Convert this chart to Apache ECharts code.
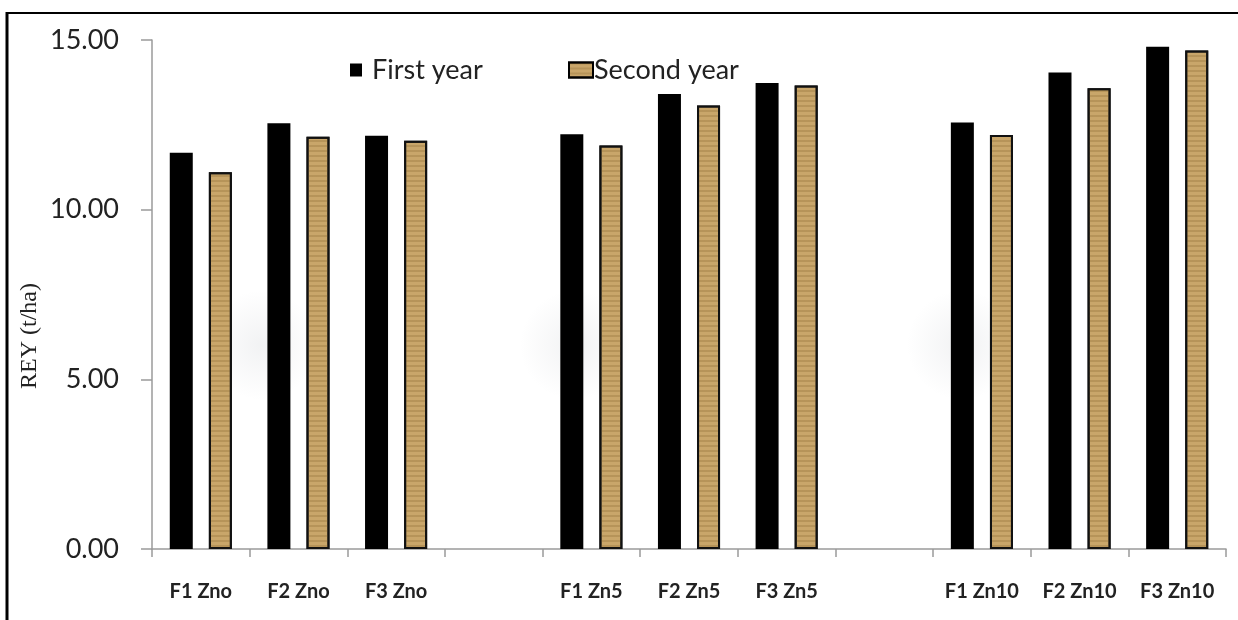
<!DOCTYPE html>
<html>
<head>
<meta charset="utf-8">
<script src="https://cdn.jsdelivr.net/npm/echarts@6/dist/echarts.min.js"></script>
<style>
  html, body { margin: 0; padding: 0; background: #fff; }
  #chart { width: 1238px; height: 620px; }
</style>
</head>
<body>
<div id="chart"></div>
<script>
// Treatment combinations (blank slots separate the zinc levels)
const categories = ['F1 Zno', 'F2 Zno', 'F3 Zno', '', 'F1 Zn5', 'F2 Zn5', 'F3 Zn5', '', 'F1 Zn10', 'F2 Zn10', 'F3 Zn10'];
// Rice equivalent yield, t/ha
const firstYear  = [11.68, 12.55, 12.18, null, 12.22, 13.41, 13.73, null, 12.57, 14.04, 14.80];
const secondYear = [11.10, 12.15, 12.03, null, 11.89, 13.07, 13.66, null, 12.20, 13.58, 14.69];
const yTicks = [0, 5, 10, 15];
const yTitle = 'REY (t/ha)';

const chart = echarts.init(document.getElementById('chart'), null, { renderer: 'canvas' });

const tan = '#c9a66a';

// soft grey haze behind each group
function haze(cx, cy) {
  return {
    type: 'ellipse', z: -10, silent: true,
    shape: { cx: cx, cy: cy, rx: 70, ry: 55 },
    style: {
      fill: new echarts.graphic.RadialGradient(0.5, 0.5, 0.5, [
        { offset: 0, color: 'rgba(150,155,165,0.13)' },
        { offset: 1, color: 'rgba(150,155,165,0)' }
      ])
    }
  };
}

chart.setOption({
  backgroundColor: '#ffffff',
  animation: false,
  graphic: [
    haze(262, 345), haze(575, 345), haze(962, 345),
    // outer frame
    { type: 'line', shape: { x1: 6, y1: 13, x2: 1238, y2: 13 }, style: { stroke: '#000', lineWidth: 2 } },
    { type: 'line', shape: { x1: 7, y1: 12, x2: 7, y2: 620 }, style: { stroke: '#000', lineWidth: 3 } },
    // vertical axis title
    {
      type: 'text', x: 30, y: 336, rotation: Math.PI / 2,
      style: {
        text: yTitle, fontFamily: 'Liberation Serif', fontSize: 24, fill: '#222',
        align: 'center', verticalAlign: 'middle',
        textAlign: 'center', textVerticalAlign: 'middle'
      }
    }
  ],
  legend: [
    {
      top: 51, left: 345,
      icon: 'rect',
      itemWidth: 12, itemHeight: 13,
      textStyle: { fontFamily: 'Lato', fontSize: 27, lineHeight: 28, color: '#222', padding: [0, 0, 0, 5] },
      data: [{ name: 'First year', itemStyle: { color: '#000', borderWidth: 0 } }]
    },
    {
      top: 51, left: 563,
      icon: 'rect',
      itemWidth: 24, itemHeight: 15,
      textStyle: { fontFamily: 'Lato', fontSize: 27, lineHeight: 28, color: '#222', padding: [0, 0, 0, -4] },
      data: [{ name: 'Second year', itemStyle: { color: tan, borderColor: '#000', borderWidth: 2 } }]
    }
  ],
  grid: { left: 152, right: 12, top: 40, bottom: 71, containLabel: false },
  xAxis: {
    type: 'category',
    data: categories,
    axisLine: { lineStyle: { color: '#9a9a9a', width: 1.5 } },
    axisTick: { show: true, length: 8, interval: 0, alignWithLabel: false, lineStyle: { color: '#9a9a9a', width: 1.5 } },
    axisLabel: {
      interval: 0,
      margin: 33,
      fontFamily: 'Lato',
      fontWeight: 'bold',
      fontSize: 20,
      color: '#222'
    }
  },
  yAxis: {
    type: 'value',
    min: 0,
    max: 15,
    interval: 5,
    splitLine: { show: false },
    axisLine: { show: true, lineStyle: { color: '#9a9a9a', width: 1.5 } },
    axisTick: { show: true, length: 11, lineStyle: { color: '#9a9a9a', width: 1.5 } },
    axisLabel: {
      margin: 33,
      fontFamily: 'Lato',
      fontSize: 27,
      color: '#222',
      formatter: v => yTicks.includes(v) ? v.toFixed(2) : ''
    }
  },
  series: [
    {
      name: 'First year',
      type: 'bar',
      data: firstYear,
      barWidth: 23,
      barGap: '70%',
      itemStyle: { color: '#000' }
    },
    {
      name: 'Second year',
      type: 'bar',
      data: secondYear,
      barWidth: 23,
      itemStyle: {
        color: tan,
        borderColor: '#111',
        borderWidth: 2,
        decal: {
          symbol: 'rect',
          color: 'rgba(140,105,50,0.3)',
          dashArrayX: [1, 0],
          dashArrayY: [2, 3],
          rotation: 0
        }
      }
    }
  ]
});
</script>
</body>
</html>
